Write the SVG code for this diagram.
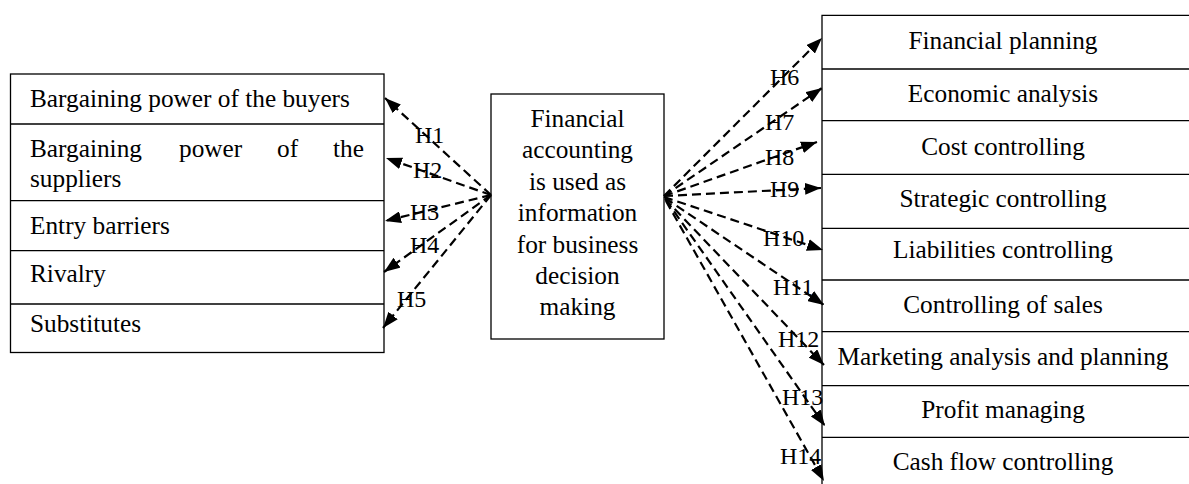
<svg xmlns="http://www.w3.org/2000/svg" width="1189" height="484" viewBox="0 0 1189 484">
<style>
.box{fill:#fff;stroke:#000;stroke-width:1.3}
.div{stroke:#000;stroke-width:1.3;fill:none}
.t{font-family:"Liberation Serif","Times New Roman",serif;font-size:25.3px;fill:#000}
.c{text-anchor:middle}
.lbl{font-family:"Liberation Serif","Times New Roman",serif;font-size:24px;fill:#000}
.ar{stroke:#000;stroke-width:2.2;stroke-dasharray:9 5;fill:none;marker-end:url(#ah)}
</style>
<defs>
<marker id="ah" viewBox="0 0 16 12" refX="16" refY="6" markerWidth="16" markerHeight="12" markerUnits="userSpaceOnUse" orient="auto">
<path d="M0,0 L16,6 L0,12 Z" fill="#000"/>
</marker>
</defs>
<rect width="1189" height="484" fill="#fff"/>

<g id="left-box">
<rect class="box" x="10.5" y="74" width="373.5" height="278.5"/>
<line class="div" x1="10.5" y1="124" x2="384" y2="124"/>
<line class="div" x1="10.5" y1="200.7" x2="384" y2="200.7"/>
<line class="div" x1="10.5" y1="250.7" x2="384" y2="250.7"/>
<line class="div" x1="10.5" y1="304" x2="384" y2="304"/>
</g>
<g id="node-buyers"><text class="t" x="30" y="107">Bargaining power of the buyers</text></g>
<g id="node-suppliers">
<text class="t" x="30" y="157">Bargaining</text>
<text class="t" x="179" y="157">power</text>
<text class="t" x="277" y="157">of</text>
<text class="t" x="364" y="157" text-anchor="end">the</text>
<text class="t" x="30" y="187">suppliers</text>
</g>
<g id="node-entry"><text class="t" x="30" y="234">Entry barriers</text></g>
<g id="node-rivalry"><text class="t" x="30" y="282">Rivalry</text></g>
<g id="node-substitutes"><text class="t" x="30" y="332">Substitutes</text></g>

<g id="node-center">
<rect class="box" x="491" y="94" width="173" height="245"/>
<text class="t c" x="577.5" y="127">Financial</text>
<text class="t c" x="577.5" y="158">accounting</text>
<text class="t c" x="577.5" y="190">is used as</text>
<text class="t c" x="577.5" y="221">information</text>
<text class="t c" x="577.5" y="253">for business</text>
<text class="t c" x="577.5" y="284">decision</text>
<text class="t c" x="577.5" y="315">making</text>
</g>

<g id="right-box">
<path class="div" d="M1195,15.3 H822 V495"/>
<line class="div" x1="822" y1="69" x2="1189" y2="69"/>
<line class="div" x1="822" y1="120.7" x2="1189" y2="120.7"/>
<line class="div" x1="822" y1="174.3" x2="1189" y2="174.3"/>
<line class="div" x1="822" y1="228.3" x2="1189" y2="228.3"/>
<line class="div" x1="822" y1="280" x2="1189" y2="280"/>
<line class="div" x1="822" y1="331.7" x2="1189" y2="331.7"/>
<line class="div" x1="822" y1="385.7" x2="1189" y2="385.7"/>
<line class="div" x1="822" y1="437.3" x2="1189" y2="437.3"/>
</g>
<g id="node-fin-planning"><text class="t c" x="1003" y="49">Financial planning</text></g>
<g id="node-econ"><text class="t c" x="1003" y="102">Economic analysis</text></g>
<g id="node-cost"><text class="t c" x="1003" y="155">Cost controlling</text></g>
<g id="node-strategic"><text class="t c" x="1003" y="207">Strategic controlling</text></g>
<g id="node-liabilities"><text class="t c" x="1003" y="258">Liabilities controlling</text></g>
<g id="node-sales"><text class="t c" x="1003" y="313">Controlling of sales</text></g>
<g id="node-marketing"><text class="t c" x="1003" y="365">Marketing analysis and planning</text></g>
<g id="node-profit"><text class="t c" x="1003" y="418">Profit managing</text></g>
<g id="node-cashflow"><text class="t c" x="1003" y="470">Cash flow controlling</text></g>

<g id="connectors">
<line class="ar" x1="491" y1="195" x2="385" y2="98"/>
<line class="ar" x1="491" y1="195" x2="386" y2="158"/>
<line class="ar" x1="491" y1="195" x2="385" y2="221"/>
<line class="ar" x1="491" y1="195" x2="384" y2="272"/>
<line class="ar" x1="491" y1="195" x2="383" y2="328"/>

<line class="ar" x1="664" y1="196" x2="822" y2="38"/>
<line class="ar" x1="664" y1="196" x2="822" y2="88"/>
<line class="ar" x1="664" y1="196" x2="817" y2="142"/>
<line class="ar" x1="664" y1="196" x2="821" y2="188"/>
<line class="ar" x1="664" y1="197" x2="823" y2="250"/>
<line class="ar" x1="665" y1="198" x2="824" y2="305"/>
<line class="ar" x1="665" y1="199" x2="824" y2="365"/>
<line class="ar" x1="666" y1="200" x2="825" y2="426"/>
<line class="ar" x1="666" y1="201" x2="824" y2="481"/>

<text class="lbl" x="415" y="143">H1</text>
<text class="lbl" x="413" y="178">H2</text>
<text class="lbl" x="410" y="220">H3</text>
<text class="lbl" x="410" y="253">H4</text>
<text class="lbl" x="397" y="307">H5</text>
<text class="lbl" x="770" y="85">H6</text>
<text class="lbl" x="765" y="130">H7</text>
<text class="lbl" x="765" y="165">H8</text>
<text class="lbl" x="770" y="197">H9</text>
<text class="lbl" x="763" y="246">H10</text>
<text class="lbl" x="773" y="295">H11</text>
<text class="lbl" x="778" y="347">H12</text>
<text class="lbl" x="782" y="405">H13</text>
<text class="lbl" x="780" y="464">H14</text>
</g>
</svg>
